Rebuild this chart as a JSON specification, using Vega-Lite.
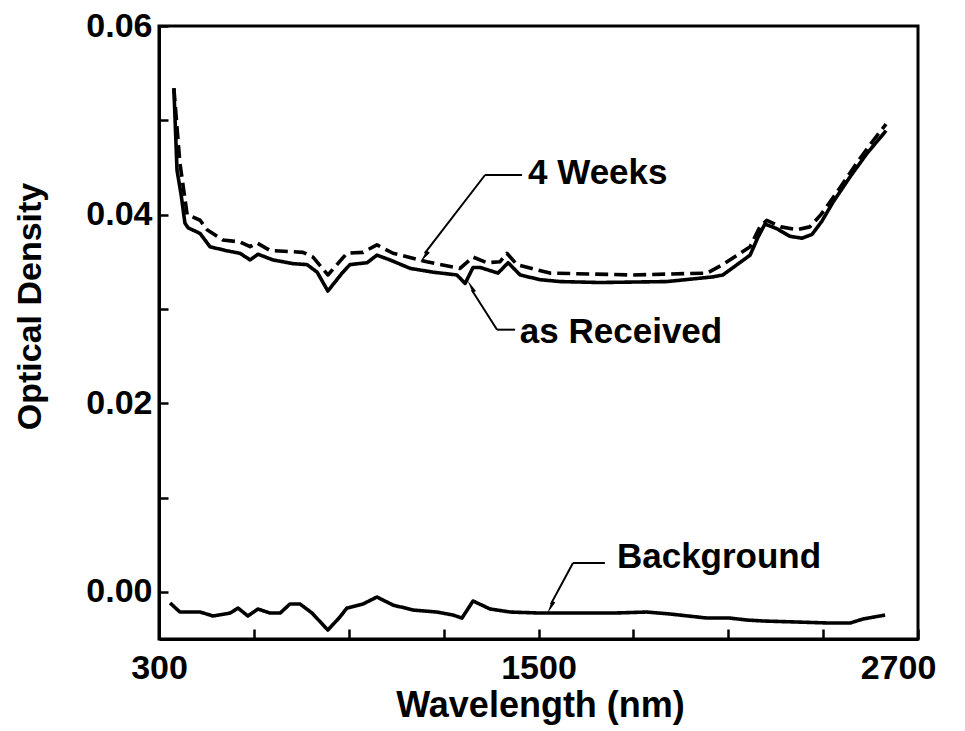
{
  "$schema": "https://vega.github.io/schema/vega-lite/v6.json",
  "width": 759,
  "height": 613,
  "autosize": "none",
  "padding": {"left": 159, "top": 26, "right": 47, "bottom": 92},
  "background": "white",
  "config": {
    "view": {"stroke": "black", "strokeWidth": 3},
    "axis": {
      "grid": false,
      "domainColor": "black",
      "domainWidth": 3,
      "tickColor": "black",
      "tickWidth": 2.5,
      "labelFont": "Liberation Sans",
      "labelFontWeight": "bold",
      "labelFontSize": 34,
      "labelColor": "black",
      "labelOverlap": false,
      "labelFlush": false,
      "titleFont": "Liberation Sans",
      "titleFontWeight": "bold",
      "titleColor": "black"
    }
  },
  "datasets": {
    "spectra": [
      {"series": "as Received", "wavelength": 347, "od": 0.0534},
      {"series": "as Received", "wavelength": 357, "od": 0.0447},
      {"series": "as Received", "wavelength": 370, "od": 0.0421},
      {"series": "as Received", "wavelength": 382, "od": 0.0391},
      {"series": "as Received", "wavelength": 392, "od": 0.0386},
      {"series": "as Received", "wavelength": 430, "od": 0.0380},
      {"series": "as Received", "wavelength": 461, "od": 0.0366},
      {"series": "as Received", "wavelength": 509, "od": 0.0362},
      {"series": "as Received", "wavelength": 556, "od": 0.0359},
      {"series": "as Received", "wavelength": 588, "od": 0.0352},
      {"series": "as Received", "wavelength": 613, "od": 0.0358},
      {"series": "as Received", "wavelength": 660, "od": 0.0352},
      {"series": "as Received", "wavelength": 724, "od": 0.0348},
      {"series": "as Received", "wavelength": 768, "od": 0.0347},
      {"series": "as Received", "wavelength": 800, "od": 0.0339},
      {"series": "as Received", "wavelength": 834, "od": 0.0319},
      {"series": "as Received", "wavelength": 879, "od": 0.0338},
      {"series": "as Received", "wavelength": 904, "od": 0.0347},
      {"series": "as Received", "wavelength": 958, "od": 0.0349},
      {"series": "as Received", "wavelength": 989, "od": 0.0357},
      {"series": "as Received", "wavelength": 1030, "od": 0.0352},
      {"series": "as Received", "wavelength": 1094, "od": 0.0343},
      {"series": "as Received", "wavelength": 1166, "od": 0.0339},
      {"series": "as Received", "wavelength": 1242, "od": 0.0336},
      {"series": "as Received", "wavelength": 1268, "od": 0.0327},
      {"series": "as Received", "wavelength": 1293, "od": 0.0344},
      {"series": "as Received", "wavelength": 1315, "od": 0.0344},
      {"series": "as Received", "wavelength": 1372, "od": 0.0338},
      {"series": "as Received", "wavelength": 1404, "od": 0.0349},
      {"series": "as Received", "wavelength": 1442, "od": 0.0336},
      {"series": "as Received", "wavelength": 1505, "od": 0.0331},
      {"series": "as Received", "wavelength": 1568, "od": 0.0329},
      {"series": "as Received", "wavelength": 1694, "od": 0.0328},
      {"series": "as Received", "wavelength": 1906, "od": 0.0329},
      {"series": "as Received", "wavelength": 2052, "od": 0.0334},
      {"series": "as Received", "wavelength": 2083, "od": 0.0336},
      {"series": "as Received", "wavelength": 2128, "od": 0.0347},
      {"series": "as Received", "wavelength": 2169, "od": 0.0357},
      {"series": "as Received", "wavelength": 2194, "od": 0.0376},
      {"series": "as Received", "wavelength": 2216, "od": 0.0390},
      {"series": "as Received", "wavelength": 2254, "od": 0.0385},
      {"series": "as Received", "wavelength": 2295, "od": 0.0377},
      {"series": "as Received", "wavelength": 2333, "od": 0.0375},
      {"series": "as Received", "wavelength": 2365, "od": 0.0379},
      {"series": "as Received", "wavelength": 2396, "od": 0.0393},
      {"series": "as Received", "wavelength": 2431, "od": 0.0413},
      {"series": "as Received", "wavelength": 2485, "od": 0.0440},
      {"series": "as Received", "wavelength": 2539, "od": 0.0465},
      {"series": "as Received", "wavelength": 2599, "od": 0.0489},
      {"series": "4 Weeks", "wavelength": 347, "od": 0.0534},
      {"series": "4 Weeks", "wavelength": 366, "od": 0.0455},
      {"series": "4 Weeks", "wavelength": 389, "od": 0.0400},
      {"series": "4 Weeks", "wavelength": 430, "od": 0.0394},
      {"series": "4 Weeks", "wavelength": 452, "od": 0.0384},
      {"series": "4 Weeks", "wavelength": 502, "od": 0.0373},
      {"series": "4 Weeks", "wavelength": 556, "od": 0.0371},
      {"series": "4 Weeks", "wavelength": 588, "od": 0.0366},
      {"series": "4 Weeks", "wavelength": 610, "od": 0.0370},
      {"series": "4 Weeks", "wavelength": 651, "od": 0.0362},
      {"series": "4 Weeks", "wavelength": 755, "od": 0.0360},
      {"series": "4 Weeks", "wavelength": 787, "od": 0.0355},
      {"series": "4 Weeks", "wavelength": 834, "od": 0.0336},
      {"series": "4 Weeks", "wavelength": 894, "od": 0.0359},
      {"series": "4 Weeks", "wavelength": 945, "od": 0.0360},
      {"series": "4 Weeks", "wavelength": 989, "od": 0.0368},
      {"series": "4 Weeks", "wavelength": 1040, "od": 0.0359},
      {"series": "4 Weeks", "wavelength": 1147, "od": 0.0350},
      {"series": "4 Weeks", "wavelength": 1252, "od": 0.0343},
      {"series": "4 Weeks", "wavelength": 1293, "od": 0.0355},
      {"series": "4 Weeks", "wavelength": 1337, "od": 0.0349},
      {"series": "4 Weeks", "wavelength": 1378, "od": 0.0350},
      {"series": "4 Weeks", "wavelength": 1400, "od": 0.0359},
      {"series": "4 Weeks", "wavelength": 1432, "od": 0.0347},
      {"series": "4 Weeks", "wavelength": 1536, "od": 0.0338},
      {"series": "4 Weeks", "wavelength": 1799, "od": 0.0336},
      {"series": "4 Weeks", "wavelength": 2033, "od": 0.0338},
      {"series": "4 Weeks", "wavelength": 2083, "od": 0.0347},
      {"series": "4 Weeks", "wavelength": 2169, "od": 0.0366},
      {"series": "4 Weeks", "wavelength": 2200, "od": 0.0387},
      {"series": "4 Weeks", "wavelength": 2222, "od": 0.0394},
      {"series": "4 Weeks", "wavelength": 2267, "od": 0.0387},
      {"series": "4 Weeks", "wavelength": 2317, "od": 0.0384},
      {"series": "4 Weeks", "wavelength": 2358, "od": 0.0387},
      {"series": "4 Weeks", "wavelength": 2393, "od": 0.0400},
      {"series": "4 Weeks", "wavelength": 2438, "od": 0.0421},
      {"series": "4 Weeks", "wavelength": 2507, "od": 0.0455},
      {"series": "4 Weeks", "wavelength": 2555, "od": 0.0477},
      {"series": "4 Weeks", "wavelength": 2599, "od": 0.0496},
      {"series": "Background", "wavelength": 335, "od": -0.00118},
      {"series": "Background", "wavelength": 366, "od": -0.00214},
      {"series": "Background", "wavelength": 430, "od": -0.00214},
      {"series": "Background", "wavelength": 471, "od": -0.00256},
      {"series": "Background", "wavelength": 525, "od": -0.00225},
      {"series": "Background", "wavelength": 550, "od": -0.00172},
      {"series": "Background", "wavelength": 581, "od": -0.00256},
      {"series": "Background", "wavelength": 613, "od": -0.00182},
      {"series": "Background", "wavelength": 651, "od": -0.00225},
      {"series": "Background", "wavelength": 683, "od": -0.00225},
      {"series": "Background", "wavelength": 714, "od": -0.00129},
      {"series": "Background", "wavelength": 746, "od": -0.00129},
      {"series": "Background", "wavelength": 784, "od": -0.00225},
      {"series": "Background", "wavelength": 834, "od": -0.00405},
      {"series": "Background", "wavelength": 872, "od": -0.00267},
      {"series": "Background", "wavelength": 894, "od": -0.00172},
      {"series": "Background", "wavelength": 945, "od": -0.00129},
      {"series": "Background", "wavelength": 989, "od": -0.00055},
      {"series": "Background", "wavelength": 1040, "od": -0.00140},
      {"series": "Background", "wavelength": 1103, "od": -0.00193},
      {"series": "Background", "wavelength": 1179, "od": -0.00214},
      {"series": "Background", "wavelength": 1230, "od": -0.00246},
      {"series": "Background", "wavelength": 1258, "od": -0.00278},
      {"series": "Background", "wavelength": 1293, "od": -0.00097},
      {"series": "Background", "wavelength": 1347, "od": -0.00182},
      {"series": "Background", "wavelength": 1410, "od": -0.00214},
      {"series": "Background", "wavelength": 1505, "od": -0.00225},
      {"series": "Background", "wavelength": 1736, "od": -0.00225},
      {"series": "Background", "wavelength": 1843, "od": -0.00214},
      {"series": "Background", "wavelength": 1916, "od": -0.00235},
      {"series": "Background", "wavelength": 2033, "od": -0.00278},
      {"series": "Background", "wavelength": 2105, "od": -0.00278},
      {"series": "Background", "wavelength": 2159, "od": -0.00299},
      {"series": "Background", "wavelength": 2210, "od": -0.00309},
      {"series": "Background", "wavelength": 2317, "od": -0.00320},
      {"series": "Background", "wavelength": 2422, "od": -0.00331},
      {"series": "Background", "wavelength": 2485, "od": -0.00331},
      {"series": "Background", "wavelength": 2526, "od": -0.00288},
      {"series": "Background", "wavelength": 2596, "od": -0.00246}
    ],
    "notes": [
      {"label": "4 Weeks", "wavelength": 1467, "od": 0.0444},
      {"label": "as Received", "wavelength": 1441, "od": 0.0276},
      {"label": "Background", "wavelength": 1748, "od": 0.0037}
    ],
    "leaders": [
      {"wavelength": 1331, "od": 0.0442, "wavelength2": 1448, "od2": 0.0442},
      {"wavelength": 1331, "od": 0.0442, "wavelength2": 1140, "od2": 0.0359},
      {"wavelength": 1369, "od": 0.0278, "wavelength2": 1289, "od2": 0.0320},
      {"wavelength": 1369, "od": 0.0278, "wavelength2": 1426, "od2": 0.0278},
      {"wavelength": 1609, "od": 0.00306, "wavelength2": 1710, "od2": 0.00306},
      {"wavelength": 1609, "od": 0.00306, "wavelength2": 1539, "od2": -0.00130}
    ],
    "arrows": [
      {"arrow": "4 Weeks", "wavelength": 1143, "od": 0.0357},
      {"arrow": "as Received", "wavelength": 1290, "od": 0.0322},
      {"arrow": "Background", "wavelength": 1541, "od": -0.00145}
    ]
  },
  "encoding": {
    "x": {
      "field": "wavelength",
      "type": "quantitative",
      "scale": {"domain": [300, 2700], "nice": false, "zero": false},
      "axis": {
        "title": "Wavelength (nm)",
        "values": [300, 600, 900, 1200, 1500, 1800, 2100, 2400, 2700],
        "format": "d",
        "labelExpr": "datum.value == 300 || datum.value == 1500 || datum.value == 2700 ? datum.label : ''",
        "tickSize": -10,
        "labelPadding": 22,
        "labelOffset": {"condition": {"test": "datum.value == 2700", "value": -20}, "value": 0},
        "titleFontSize": 36,
        "titleX": 381,
        "titleY": 77,
        "titleAlign": "center",
        "titleBaseline": "alphabetic"
      }
    },
    "y": {
      "field": "od",
      "type": "quantitative",
      "scale": {"domain": [-0.005, 0.06], "nice": false, "zero": false},
      "axis": {
        "title": "Optical Density",
        "values": [0, 0.01, 0.02, 0.03, 0.04, 0.05, 0.06],
        "format": ".2f",
        "labelExpr": "indexof(['0.00','0.02','0.04','0.06'], datum.label) >= 0 ? datum.label : ''",
        "tickSize": -9,
        "labelPadding": 16,
        "titleFontSize": 34,
        "titleX": -119,
        "titleY": 280,
        "titleAngle": -90,
        "titleAlign": "center",
        "titleBaseline": "alphabetic"
      }
    }
  },
  "layer": [
    {
      "data": {"name": "spectra"},
      "mark": {"type": "line", "color": "black", "strokeWidth": 3.6, "strokeJoin": "round", "strokeCap": "butt", "clip": true},
      "encoding": {
        "detail": {"field": "series", "type": "nominal"},
        "strokeDash": {
          "field": "series",
          "type": "nominal",
          "scale": {"domain": ["as Received", "4 Weeks", "Background"], "range": [[1, 0], [13, 6], [1, 0]]},
          "legend": null
        }
      }
    },
    {
      "data": {"name": "leaders"},
      "mark": {"type": "rule", "color": "black", "strokeWidth": 2},
      "encoding": {
        "x2": {"field": "wavelength2"},
        "y2": {"field": "od2"}
      }
    },
    {
      "data": {"name": "arrows"},
      "transform": [{"filter": "datum.arrow == '4 Weeks'"}],
      "mark": {"type": "point", "shape": "wedge", "filled": true, "color": "black", "opacity": 1, "size": 240, "angle": 217},
      "encoding": {}
    },
    {
      "data": {"name": "arrows"},
      "transform": [{"filter": "datum.arrow == 'as Received'"}],
      "mark": {"type": "point", "shape": "wedge", "filled": true, "color": "black", "opacity": 1, "size": 240, "angle": 330},
      "encoding": {}
    },
    {
      "data": {"name": "arrows"},
      "transform": [{"filter": "datum.arrow == 'Background'"}],
      "mark": {"type": "point", "shape": "wedge", "filled": true, "color": "black", "opacity": 1, "size": 240, "angle": 208},
      "encoding": {}
    },
    {
      "data": {"name": "notes"},
      "mark": {"type": "text", "font": "Liberation Sans", "fontWeight": "bold", "fontSize": 35, "align": "left", "baseline": "middle", "color": "black"},
      "encoding": {
        "text": {"field": "label", "type": "nominal"}
      }
    }
  ]
}
